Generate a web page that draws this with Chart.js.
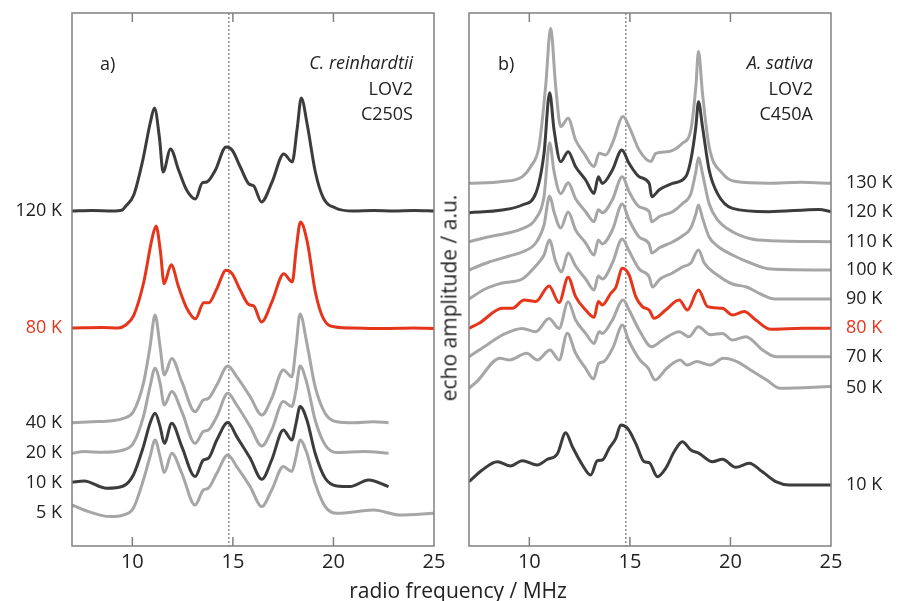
<!DOCTYPE html>
<html>
<head>
<meta charset="utf-8">
<script src="https://cdn.jsdelivr.net/npm/chart.js@4.4.1/dist/chart.umd.min.js"></script>
<style>
  body { margin: 0; background: #fff; }
  #wrap { position: relative; width: 903px; height: 601px; overflow: hidden; font-family: "Open Sans", sans-serif; color: #222; }
  canvas { position: absolute; top: 0; }
  .txt { position: absolute; white-space: nowrap; font-size: 18px; line-height: 18px; transform: translateY(-50%); }
  .r { text-align: right; }
  .it { font-style: italic; }
</style>
</head>
<body>
<div id="wrap">
  <canvas id="chartA" width="451" height="601" style="left:0"></canvas>
  <canvas id="chartB" width="452" height="601" style="left:451px"></canvas>

  <div class="txt" style="left:100px; top:63px">a)</div>
  <div class="txt r it" style="right:490px; top:62px">C. reinhardtii</div>
  <div class="txt r" style="right:490px; top:88px">LOV2</div>
  <div class="txt r" style="right:490px; top:113px">C250S</div>

  <div class="txt" style="left:498px; top:63px">b)</div>
  <div class="txt r it" style="right:90px; top:62px">A. sativa</div>
  <div class="txt r" style="right:90px; top:88px">LOV2</div>
  <div class="txt r" style="right:90px; top:113px">C450A</div>

  <div class="txt" style="left:458px; top:590px; font-size:21px; line-height:21px; transform:translate(-50%,-50%)">radio frequency / MHz</div>
  <div class="txt" style="left:449px; top:298px; font-size:21px; line-height:21px; transform:translate(-50%,-50%) rotate(-90deg)">echo amplitude / a.u.</div>
</div>

<script>
// x axis (MHz)
const xMin = 7;
const xMax = 25;
const xTicks = [10, 15, 20, 25];
const markerFreq = 14.8;

// ---- panel a: C. reinhardtii LOV2 C250S ----
const tempsA = ["120 K", "80 K", "40 K", "20 K", "10 K", "5 K"];
const offsetsA = [33.5, 21.8, 12.33, 9.27, 6.27, 3.27];

const freqA120 = [7, 8, 9, 9.5, 9.65, 10.07, 10.5, 10.9, 11.1, 11.35, 11.53, 11.9, 12.3, 12.7, 13.14, 13.47, 13.7, 14.13, 14.66, 14.96, 15.37, 15.8, 16.04, 16.42, 16.95, 17.53, 17.95, 18.2, 18.4, 18.7, 19.1, 19.5, 20.1, 21, 22, 23, 24, 25];
const ampA120 = [0, 0.05, 0, 0.1, 0.43, 1.6, 4.9, 8.9, 10.3, 7.3, 3.9, 6.2, 4.1, 2.1, 1.2, 2.8, 2.9, 4.1, 6.4, 6.1, 4.4, 2.7, 2.5, 0.9, 2.9, 5.7, 4.9, 8.3, 11.3, 8.6, 3.9, 1.3, 0.3, 0, 0.05, 0, 0.05, 0];

const freqA80 = [7, 8.5, 9.3, 9.65, 10.07, 10.57, 10.98, 11.18, 11.4, 11.58, 11.93, 12.3, 12.72, 13.14, 13.55, 13.8, 14.2, 14.66, 14.96, 15.37, 15.8, 16.04, 16.42, 16.95, 17.53, 17.95, 18.15, 18.36, 18.7, 19.1, 19.5, 20.1, 21, 22.5, 24, 25];
const ampA80 = [0, 0.05, 0, 0.27, 1.27, 4.6, 8.93, 10.2, 7.6, 4.43, 6.33, 4.1, 1.93, 0.93, 2.53, 2.53, 3.93, 5.77, 5.43, 3.77, 2.33, 2.2, 0.6, 2.67, 5.43, 4.6, 7.93, 10.6, 8.6, 3.6, 0.93, 0.1, 0, -0.05, 0, -0.05];

const freqA40 = [7, 8, 9, 9.55, 10.05, 10.55, 10.88, 11.13, 11.38, 11.59, 11.96, 12.46, 13.12, 13.53, 13.78, 14.2, 14.75, 15.19, 15.86, 16.44, 16.93, 17.51, 17.93, 18.14, 18.34, 18.68, 19.09, 19.59, 20.17, 21, 22, 22.74];
const ampA40 = [0, 0.1, 0.2, 0.43, 1.1, 3.93, 7.6, 10.77, 7.6, 4.77, 6.43, 4.1, 1.1, 2.27, 2.43, 3.77, 5.67, 4.6, 2.6, 0.77, 2.43, 5.27, 4.6, 7.6, 10.87, 7.93, 3.6, 0.93, 0.1, 0, 0.1, 0];

const freqA20 = [7, 7.6, 8.5, 9.55, 10.05, 10.55, 10.88, 11.13, 11.38, 11.59, 11.96, 12.46, 13.12, 13.53, 13.78, 14.2, 14.75, 15.19, 15.86, 16.44, 16.93, 17.51, 17.93, 18.14, 18.34, 18.68, 19.09, 19.59, 20.17, 21.5, 22.74];
const ampA20 = [0, 0.17, 0.1, 0.33, 1.0, 3.67, 6.67, 8.5, 7.0, 4.83, 6.17, 4.17, 1.0, 2.17, 2.33, 3.67, 6.0, 4.83, 2.67, 0.73, 2.33, 5.17, 4.67, 6.33, 8.73, 7.0, 3.33, 0.83, 0.07, 0.17, 0];

const freqA10 = [7, 7.6, 8.72, 9.55, 10.05, 10.55, 10.88, 11.13, 11.38, 11.59, 11.96, 12.46, 13.12, 13.53, 13.78, 14.2, 14.75, 15.19, 15.86, 16.44, 16.93, 17.51, 17.93, 18.14, 18.34, 18.68, 19.09, 19.59, 20.17, 20.83, 21.75, 22.74];
const ampA10 = [0.1, 0.23, -0.5, -0.27, 0.83, 3.67, 6.0, 7.0, 5.67, 4.0, 6.0, 3.67, 0.67, 2.33, 2.5, 4.33, 6.07, 4.67, 2.5, 0.4, 2.33, 5.33, 4.33, 6.0, 7.67, 6.33, 3.0, 0.5, -0.27, -0.33, 0.33, -0.33];

const freqA5 = [7, 7.6, 8.9, 9.55, 10.05, 10.55, 10.88, 11.13, 11.38, 11.59, 11.96, 12.46, 13.12, 13.53, 13.78, 14.2, 14.75, 15.19, 15.86, 16.44, 16.93, 17.51, 17.93, 18.14, 18.34, 18.68, 19.09, 19.59, 20.17, 22, 23.3, 25];
const ampA5 = [0.83, 0.33, -0.33, -0.17, 0.5, 3.33, 5.67, 7.33, 5.67, 4.07, 6.0, 4.0, 0.83, 2.33, 2.5, 4.0, 5.83, 4.67, 2.67, 0.67, 2.33, 4.67, 4.17, 5.67, 7.33, 6.0, 3.0, 0.67, 0, 0.33, -0.17, 0];

// ---- panel b: A. sativa LOV2 C450A ----
const tempsB = ["130 K", "120 K", "110 K", "100 K", "90 K", "80 K", "70 K", "50 K", "10 K"];
const offsetsB = [36.27, 33.43, 30.43, 27.6, 24.7, 21.77, 18.93, 15.77, 6.1];

const freqB130 = [7, 8.66, 9.65, 10.07, 10.48, 10.81, 11.06, 11.31, 11.56, 11.93, 12.3, 12.72, 13.22, 13.47, 13.8, 14.13, 14.66, 14.96, 15.46, 16.04, 16.29, 16.95, 17.61, 18.03, 18.28, 18.41, 18.61, 18.94, 19.6, 20.27, 21.9, 23.5, 25];
const ampB130 = [0, 0.17, 0.67, 1.67, 3.67, 9.67, 15.5, 9.67, 5.67, 6.5, 4.33, 3.0, 1.67, 3.0, 2.83, 4.0, 6.67, 5.67, 3.33, 2.17, 3.0, 3.17, 4.0, 5.33, 9.67, 13.17, 9.0, 3.67, 1.0, 0.17, 0, 0.1, 0];

const freqB120 = [7, 8.66, 9.65, 10.32, 10.73, 11.01, 11.23, 11.56, 11.93, 12.3, 12.8, 13.22, 13.43, 13.63, 14.13, 14.6, 14.96, 15.46, 15.96, 16.09, 16.45, 17.12, 17.78, 18.03, 18.28, 18.41, 18.61, 18.94, 19.35, 20.1, 21.9, 24.4, 25];
const ampB120 = [-0.1, 0.17, 0.67, 1.83, 5.83, 11.9, 8.17, 5.0, 6.0, 4.5, 3.17, 1.83, 3.5, 2.83, 4.17, 6.17, 4.83, 3.5, 2.83, 1.5, 2.17, 2.83, 3.5, 5.17, 8.5, 11.0, 8.5, 4.17, 1.83, 0.33, 0, 0.23, 0];

const freqB110 = [7, 8, 9, 9.65, 10.32, 10.73, 11.01, 11.23, 11.56, 11.93, 12.3, 12.8, 13.22, 13.43, 13.63, 14.13, 14.62, 14.96, 15.46, 15.96, 16.09, 16.45, 17.12, 17.61, 18.03, 18.28, 18.41, 18.61, 18.94, 19.35, 20.1, 21, 22, 25];
const ampB110 = [0, 0.5, 0.9, 1.3, 2.3, 4.5, 9.9, 7.0, 4.8, 5.9, 4.3, 3.0, 2.0, 3.2, 2.9, 4.2, 6.5, 5.0, 3.5, 3.0, 2.0, 2.5, 3.0, 3.8, 4.8, 7.0, 8.4, 6.8, 3.8, 2.2, 1.0, 0.3, 0.1, 0];

const freqB100 = freqB110;
const ampB100 = [0, 0.8, 1.4, 1.8, 2.7, 4.5, 7.4, 5.8, 4.2, 5.8, 4.0, 2.7, 1.5, 3.0, 2.6, 4.0, 6.6, 5.0, 3.3, 2.6, 1.7, 2.2, 2.8, 3.4, 4.2, 5.6, 6.5, 5.2, 3.3, 2.4, 1.5, 0.7, 0.1, 0];

const freqB90 = [7, 7.8, 8.66, 9.65, 10.32, 10.73, 11.0, 11.3, 11.6, 11.93, 12.3, 12.8, 13.22, 13.43, 13.63, 14.13, 14.62, 14.96, 15.46, 15.96, 16.12, 16.5, 17.12, 17.61, 18.03, 18.41, 18.7, 19.35, 20.1, 20.8, 21.5, 22.2, 25];
const ampB90 = [0, 1.0, 1.6, 2.0, 3.3, 4.4, 5.9, 3.8, 2.7, 4.6, 3.3, 2.0, 0.9, 2.3, 2.0, 3.6, 6.0, 4.8, 3.0, 2.2, 1.2, 2.0, 2.6, 3.2, 3.6, 4.9, 3.6, 2.4, 1.5, 1.2, 0.5, 0, 0];

const freqB80 = [7, 7.5, 8.66, 9.16, 9.74, 10.32, 10.98, 11.48, 11.93, 12.3, 12.8, 13.22, 13.43, 13.63, 14.05, 14.3, 14.63, 14.96, 15.29, 15.62, 15.96, 16.2, 16.78, 17.45, 17.86, 18.41, 18.86, 19.6, 20.1, 20.68, 21.26, 22.0, 23.58, 25];
const ampB80 = [0, 0.5, 2.0, 2.0, 2.83, 2.67, 4.23, 2.57, 5.1, 3.17, 1.83, 1.1, 2.67, 2.33, 3.5, 4.1, 6.0, 5.33, 3.17, 2.17, 1.83, 1.0, 1.83, 2.83, 1.83, 3.83, 2.17, 2.0, 1.33, 1.67, 0.83, -0.1, 0, 0];

const freqB70 = [7, 8.0, 8.66, 9.65, 10.32, 10.98, 11.48, 11.93, 12.3, 12.8, 13.22, 13.47, 13.63, 14.13, 14.66, 14.96, 15.46, 16.09, 16.62, 17.45, 17.94, 18.4, 19.0, 19.6, 20.1, 20.77, 21.6, 22.26, 25];
const ampB70 = [0, 1.33, 2.17, 2.83, 2.5, 3.83, 2.83, 5.5, 3.67, 2.33, 1.33, 2.5, 2.33, 3.67, 5.67, 4.67, 2.67, 1.0, 1.67, 2.5, 2.0, 3.0, 2.2, 2.33, 1.67, 2.0, 0.67, 0, 0];

const freqB50 = [7, 7.4, 8.54, 9.0, 9.87, 10.4, 11.03, 11.48, 11.89, 12.3, 12.8, 13.19, 13.45, 13.7, 14.18, 14.63, 14.93, 15.5, 15.92, 16.25, 16.83, 17.5, 17.83, 18.33, 19.0, 19.65, 20.32, 21.0, 21.8, 22.47, 25];
const ampB50 = [0, 0.7, 3.0, 2.83, 3.5, 2.83, 3.83, 2.83, 5.5, 3.5, 2.0, 0.93, 2.5, 2.67, 4.17, 6.33, 4.83, 2.83, 2.0, 0.83, 2.0, 2.83, 2.33, 2.67, 2.33, 3.0, 2.67, 1.83, 0.83, 0, 0.17];

const freqB10 = [7, 7.66, 8.41, 9.07, 9.65, 10.4, 10.9, 11.39, 11.81, 12.14, 12.64, 13.05, 13.38, 13.63, 13.97, 14.3, 14.55, 14.88, 15.29, 15.71, 15.96, 16.37, 16.78, 17.2, 17.61, 18.03, 18.44, 19.1, 19.6, 20.27, 20.93, 21.59, 22.26, 22.92, 25];
const ampB10 = [0.33, 1.5, 2.33, 1.9, 2.43, 2.0, 2.57, 3.1, 5.23, 3.83, 2.0, 1.0, 2.43, 2.5, 3.67, 4.67, 6.0, 5.67, 4.17, 2.33, 2.23, 0.83, 1.67, 3.33, 4.33, 3.5, 3.17, 2.33, 2.57, 1.77, 2.17, 1.33, 0.33, 0, 0];

// colours
const DARK = "#3c3c3c";
const GREY = "#a6a6a6";
const RED = "#e5361c";
const colorsA = [DARK, RED, GREY, GREY, DARK, GREY];
const colorsB = [GREY, DARK, GREY, GREY, GREY, RED, GREY, GREY, DARK];

const curvesA = [[freqA120, ampA120], [freqA80, ampA80], [freqA40, ampA40], [freqA20, ampA20], [freqA10, ampA10], [freqA5, ampA5]];
const curvesB = [[freqB130, ampB130], [freqB120, ampB120], [freqB110, ampB110], [freqB100, ampB100], [freqB90, ampB90], [freqB80, ampB80], [freqB70, ampB70], [freqB50, ampB50], [freqB10, ampB10]];

function points(freqs, amps, offset) {
  return freqs.map((f, i) => ({ x: f, y: offset + amps[i] }));
}

// frame, inward ticks, dotted marker line and temperature labels
const decor = {
  id: "decor",
  beforeDatasetsDraw(chart) {
    const { ctx, chartArea: a, scales } = chart;
    const x = scales.x.getPixelForValue(markerFreq);
    ctx.save();
    ctx.strokeStyle = "#555";
    ctx.lineWidth = 1;
    ctx.setLineDash([2, 2]);
    ctx.beginPath();
    ctx.moveTo(x, a.top);
    ctx.lineTo(x, a.bottom);
    ctx.stroke();
    ctx.restore();
  },
  afterDraw(chart, args, opts) {
    const { ctx, chartArea: a, scales } = chart;
    ctx.save();
    ctx.strokeStyle = "#808080";
    ctx.lineWidth = 1.5;
    ctx.strokeRect(a.left, a.top, a.right - a.left, a.bottom - a.top);
    ctx.beginPath();
    xTicks.filter((v) => v < xMax).forEach((v) => {
      const px = scales.x.getPixelForValue(v);
      ctx.moveTo(px, a.top);
      ctx.lineTo(px, a.top + 9);
      ctx.moveTo(px, a.bottom);
      ctx.lineTo(px, a.bottom - 9);
    });
    ctx.stroke();

    ctx.font = "18px 'Open Sans'";
    ctx.textBaseline = "middle";
    ctx.textAlign = opts.side === "left" ? "right" : "left";
    const lx = opts.side === "left" ? a.left - 10 : a.right + 15;
    opts.labels.forEach((t, i) => {
      ctx.fillStyle = opts.colors[i] === RED ? RED : "#222";
      ctx.fillText(t, lx, scales.y.getPixelForValue(opts.offsets[i]));
    });
    ctx.restore();
  },
};

function makeChart(id, curves, offsets, colors, labels, padding, side) {
  return new Chart(document.getElementById(id), {
    type: "line",
    data: {
      datasets: curves.map((c, i) => ({
        data: points(c[0], c[1], offsets[i]),
        borderColor: colors[i],
        borderWidth: 3,
        pointRadius: 0,
        fill: false,
        cubicInterpolationMode: "monotone",
      })),
    },
    options: {
      responsive: false,
      animation: false,
      devicePixelRatio: 1,
      layout: { padding },
      plugins: {
        legend: { display: false },
        tooltip: { enabled: false },
        decor: { labels, offsets, colors, side },
      },
      scales: {
        x: {
          type: "linear",
          min: xMin,
          max: xMax,
          grid: { display: false, drawTicks: false },
          border: { display: false },
          afterBuildTicks: (s) => { s.ticks = xTicks.map((v) => ({ value: v })); },
          afterFit: (s) => { s.height = 55; },
          ticks: { color: "#222", padding: 4, font: { family: "'Open Sans'", size: 20 } },
        },
        y: { display: false, min: 0, max: 53.3 },
      },
    },
    plugins: [decor],
  });
}

makeChart("chartA", curvesA, offsetsA, colorsA, tempsA, { left: 72, right: 17, top: 13, bottom: 0 }, "left");
makeChart("chartB", curvesB, offsetsB, colorsB, tempsB, { left: 18, right: 72, top: 13, bottom: 0 }, "right");
</script>
</body>
</html>
